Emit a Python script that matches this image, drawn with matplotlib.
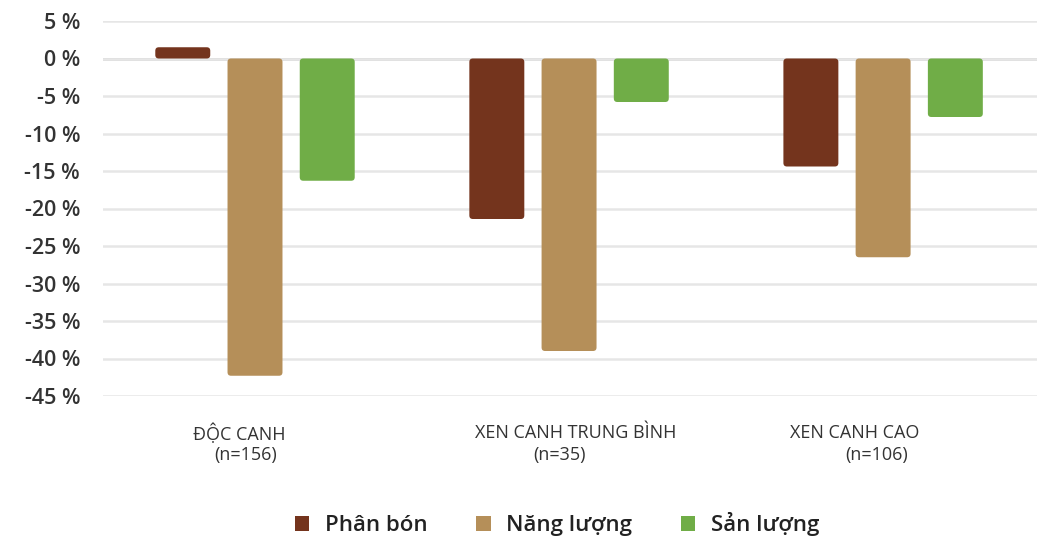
import matplotlib
matplotlib.use("Agg")
import matplotlib.pyplot as plt
import numpy as np
from matplotlib.patches import Patch, FancyBboxPatch

groups = ["ĐỘC CANH", "XEN CANH TRUNG BÌNH", "XEN CANH CAO"]
sample_sizes = ["(n=156)", "(n=35)", "(n=106)"]
series_names = ["Phân bón", "Năng lượng", "Sản lượng"]
phan_bon = [1.5, -21.4, -14.4]
nang_luong = [-42.3, -39.0, -26.5]
san_luong = [-16.3, -5.8, -7.8]
yticks = [5, 0, -5, -10, -15, -20, -25, -30, -35, -40, -45]

colors = ["#74341D", "#B58F59", "#70AD47"]
plt.rcParams['font.family'] = ['Open Sans', 'DejaVu Sans']

W, H = 1037, 538
fig = plt.figure(figsize=(W/100, H/100), dpi=100)
ax_l, ax_r, ax_t, ax_b = 103, 1037, 21, 396
ax = fig.add_axes([ax_l/W, 1-ax_b/H, (ax_r-ax_l)/W, (ax_b-ax_t)/H])

xlim = (-0.484, 2.49)
ylim = (-45, 5)
x = np.arange(len(groups))
width = 0.175
offset = 0.23
xu_per_px = (xlim[1]-xlim[0])/(ax_r-ax_l)
yu_per_px = (ylim[1]-ylim[0])/(ax_b-ax_t)
radius_px = 3.5
for i, (vals, c) in enumerate(zip([phan_bon, nang_luong, san_luong], colors)):
    bars = ax.bar(x + (i-1)*offset, vals, width, color=c, zorder=3)
    for b in bars:
        bx, by = b.get_x(), b.get_y()
        bw, bh = b.get_width(), b.get_height()
        y0 = min(by, by+bh)
        hh = abs(bh)
        b.remove()
        p = FancyBboxPatch((bx, y0), bw, hh,
                           boxstyle=f"round,pad=0,rounding_size={radius_px*xu_per_px}",
                           mutation_aspect=yu_per_px/xu_per_px,
                           facecolor=c, edgecolor='none', zorder=3)
        ax.add_patch(p)

ax.set_ylim(*ylim)
ax.set_xlim(*xlim)
ax.set_yticks(yticks)
ax.set_yticklabels([f"{t} %" for t in yticks], fontsize=15.5, color="#333333",
                   fontweight='semibold')
ax.tick_params(axis='y', length=0, pad=16.5)
ax.yaxis.grid(True, color="#E6E6E6", linewidth=1.8, zorder=0)
ax.axhline(0, color="#C8C8C8", linewidth=1.8, zorder=1)
ax.set_xticks([])
for s in ax.spines.values():
    s.set_visible(False)

name_dx = [-0.05, 0.02, -0.09]
n_dx = [-0.03, -0.03, -0.02]
for i in range(len(groups)):
    ax.text(x[i] + name_dx[i], -50.0, groups[i], ha='center', va='center',
            fontsize=13, color="#333333")
    ax.text(x[i] + n_dx[i], -52.9, sample_sizes[i], ha='center', va='center',
            fontsize=13, color="#333333")

handles = [Patch(facecolor=c, label=n) for c, n in zip(colors, series_names)]
leg = fig.legend(handles=handles, loc='center', bbox_to_anchor=(557/W, 1-524/H),
                 ncol=3, frameon=False, handlelength=0.65, handleheight=0.65,
                 columnspacing=2.2, handletextpad=0.7,
                 prop={'size': 16, 'weight': 'semibold'})
for t in leg.get_texts():
    t.set_color("#222222")

fig.savefig("out.png", dpi=100)
